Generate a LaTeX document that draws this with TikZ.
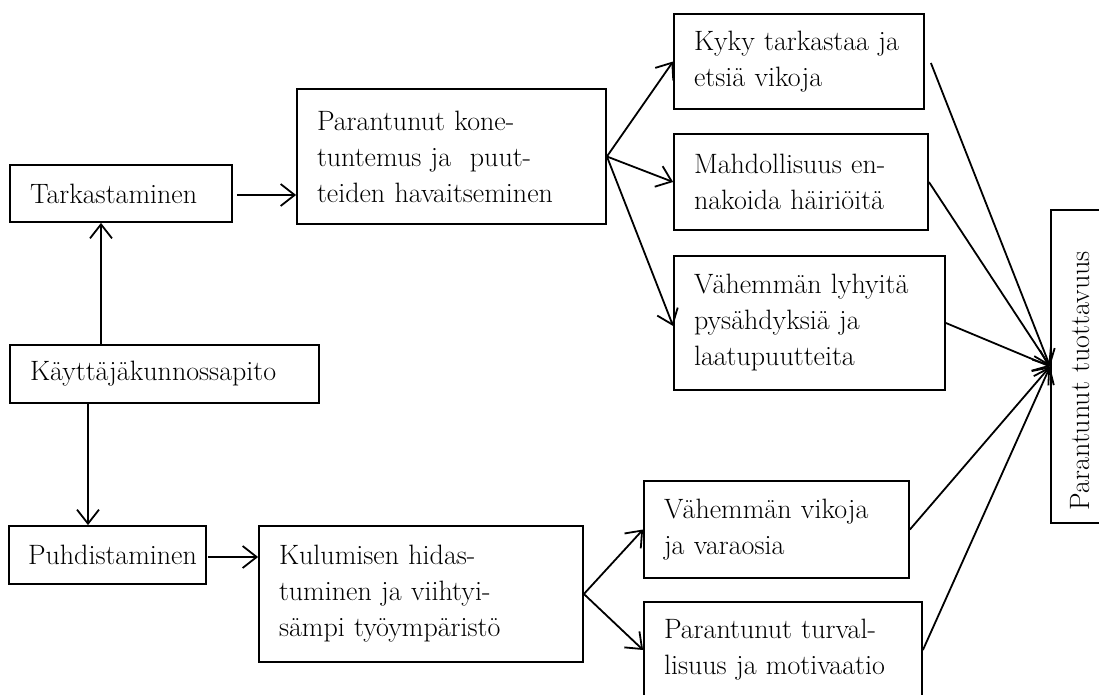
\documentclass[tikz,border=0pt]{standalone}
\usepackage{fontspec}
\usetikzlibrary{arrows.meta}
\begin{document}
\begin{tikzpicture}[x=1pt,y=-1pt,
  box/.style={draw,line width=1.8pt,rectangle,inner xsep=20pt,inner ysep=0pt,
    align=left,font=\fontsize{28}{36}\selectfont,
    execute at begin node={\hyphenpenalty=10000\exhyphenpenalty=10000}},
  arr/.style={line width=1.8pt,-{Straight Barb[length=14pt,width=22pt]}}]
\useasboundingbox (0,0) rectangle (1099,695);

% left column
\node[box,text width=182pt,minimum height=57pt] (tark) at (121,193.5) {\mbox{Tarkastaminen}};
\node[box,text width=269pt,minimum height=58pt] (kayt) at (164.5,374) {\mbox{Käyttäjäkunnossapito}};
\node[box,inner xsep=19pt,text width=159pt,minimum height=58pt] (puhd) at (107.5,555) {\mbox{Puhdistaminen}};

% middle column
\node[box,text width=269pt,minimum height=135pt] (kone) at (451.5,156.5)
  {\mbox{Parantunut kone-}\\\mbox{tuntemus ja\ \ puut-}\\\mbox{teiden havaitseminen}};
\node[box,text width=284pt,minimum height=136pt] (kulu) at (421,594)
  {\mbox{Kulumisen hidas-}\\\mbox{tuminen ja viihtyi-}\\\mbox{sämpi työympäristö}};

% effects
\node[box,text width=210pt,minimum height=95pt] (kyky) at (799,61.5)
  {\mbox{Kyky tarkastaa ja}\\\mbox{etsiä vikoja}};
\node[box,text width=214pt,minimum height=96pt] (mahd) at (801,182)
  {\mbox{Mahdollisuus en-}\\\mbox{nakoida häiriöitä}};
\node[box,text width=231pt,minimum height=134pt] (lyhy) at (809.5,323)
  {\mbox{Vähemmän lyhyitä}\\\mbox{pysähdyksiä ja}\\\mbox{laatupuutteita}};
\node[box,text width=225pt,minimum height=97pt] (vika) at (776.5,529.5)
  {\mbox{Vähemmän vikoja}\\\mbox{ja varaosia}};
\node[box,text width=238pt,minimum height=96pt] (turv) at (783,650)
  {\mbox{Parantunut turval-}\\\mbox{lisuus ja motivaatio}};

% result
\node[box,rotate=90,inner xsep=13pt,text width=287pt,minimum height=58pt] (tuot) at (1080,366.5)
  {\mbox{Parantunut tuottavuus}};

% helper columns for the vertical connectors
\coordinate (upx) at (101,0);
\coordinate (downx) at (88,0);

\draw[arr] (kayt.north -| upx) -- (tark.south -| upx);
\draw[arr] (kayt.south -| downx) -- (puhd.north -| downx);
\draw[arr] ([xshift=4pt]tark.east |- 0,195) -- (kone.west |- 0,195);
\draw[arr] ([xshift=1pt]puhd.east |- 0,557) -- (kulu.west |- 0,557);

\draw[arr] (kone.east) -- (kyky.west);
\draw[arr] (kone.east) -- (mahd.west);
\draw[arr] (kone.east) -- ([yshift=-3pt]lyhy.west);
\draw[arr] (kulu.east) -- (vika.west);
\draw[arr] (kulu.east) -- (turv.west);

\draw[arr] ([xshift=6pt,yshift=-1.5pt]kyky.east) -- (tuot.north);
\draw[arr] (mahd.east) -- (tuot.north);
\draw[arr] (lyhy.east) -- (tuot.north);
\draw[arr] (vika.east) -- (tuot.north);
\draw[arr] (turv.east) -- (tuot.north);
\end{tikzpicture}
\end{document}
